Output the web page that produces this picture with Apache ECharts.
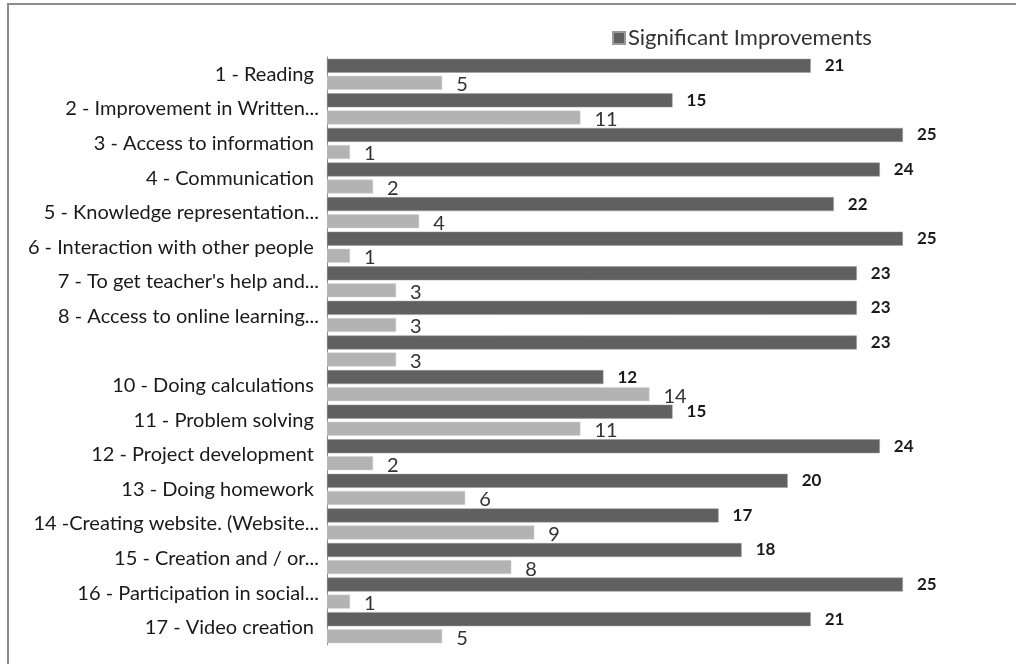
<!DOCTYPE html>
<html>
<head>
<meta charset="utf-8">
<script src="https://cdn.jsdelivr.net/npm/echarts@6/dist/echarts.min.js"></script>
<style>
  html, body { margin: 0; padding: 0; background: #fff; }
  #chart { width: 1016px; height: 664px; }
</style>
</head>
<body>
<div id="chart"></div>
<script>
// Survey items (item 9 has no label in the source sheet)
const categories = [
  "1 - Reading ",
  "2 - Improvement in Written...",
  "3 - Access to information ",
  "4 - Communication ",
  "5 - Knowledge representation...",
  "6 - Interaction with other people ",
  "7 - To get teacher's help and...",
  "8 - Access to online learning...",
  "",
  "10 - Doing calculations ",
  "11 - Problem solving ",
  "12 - Project development ",
  "13 - Doing homework ",
  "14 -Creating website. (Website...",
  "15 - Creation and / or...",
  "16 - Participation in social...",
  "17 - Video creation "
];
const significant = [21, 15, 25, 24, 22, 25, 23, 23, 23, 12, 15, 24, 20, 17, 18, 25, 21];
const other       = [5, 11, 1, 2, 4, 1, 3, 3, 3, 14, 11, 2, 6, 9, 8, 1, 5];

const FONT = "Lato, 'Open Sans', sans-serif";
const chart = echarts.init(document.getElementById('chart'), null, { renderer: 'canvas' });

chart.setOption({
  animation: false,
  backgroundColor: '#ffffff',
  textStyle: { fontFamily: FONT },
  graphic: [
    {
      type: 'polyline',
      shape: { points: [[8, 700], [8, 4], [1030, 4]] },
      style: { stroke: '#8c8c8c', lineWidth: 2, fill: null }
    }
  ],
  legend: {
    data: ['Significant Improvements'],
    left: 607,
    top: 22,
    itemWidth: 12,
    itemHeight: 12,
    icon: 'rect',
    textStyle: { fontFamily: FONT, fontSize: 22, color: '#333', padding: [0, 0, 0, -2] }
  },
  grid: { left: 327, right: 44, top: 57, bottom: 19, containLabel: false },
  xAxis: {
    type: 'value',
    min: 0,
    max: 28,
    show: false
  },
  yAxis: {
    type: 'category',
    data: categories,
    inverse: true,
    axisLine: { show: true, lineStyle: { color: '#8c8c8c', width: 1 } },
    axisTick: { show: false },
    axisLabel: { margin: 8, fontFamily: FONT, fontSize: 20, color: '#1a1a1a', interval: 0 }
  },
  series: [
    {
      name: 'Significant Improvements',
      type: 'bar',
      data: significant,
      barWidth: 14,
      barGap: '22%',
      itemStyle: { color: '#606060', borderColor: '#9a9a9a', borderWidth: 0.5 },
      label: {
        show: true,
        position: 'right',
        distance: 14,
        fontFamily: FONT,
        fontWeight: 'bold',
        fontSize: 17,
        color: '#1a1a1a'
      }
    },
    {
      name: 'Other',
      type: 'bar',
      data: other,
      barWidth: 14,
      itemStyle: { color: '#b3b3b3', borderColor: '#d4d4d4', borderWidth: 0.5 },
      label: {
        show: true,
        position: 'right',
        distance: 14,
        offset: [0, 2],
        fontFamily: FONT,
        fontSize: 20,
        color: '#333'
      }
    }
  ]
});
</script>
</body>
</html>
